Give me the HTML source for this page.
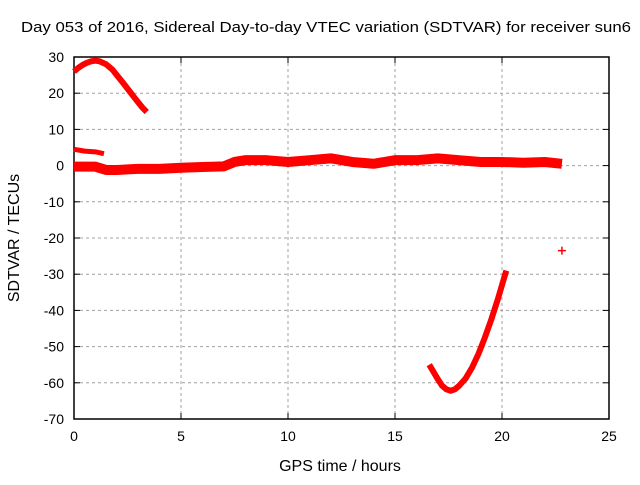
<!DOCTYPE html>
<html><head><meta charset="utf-8"><style>
body{margin:0;background:#fff}
svg text{font-family:"Liberation Sans",sans-serif;fill:#000}
</style></head><body>
<svg id="c" width="640" height="480"></svg>
<script>
const xTicks=[0,5,10,15,20,25];
const yTicks=[30,20,10,0,-10,-20,-30,-40,-50,-60,-70];
const arcX=[0,0.2,0.4,0.6,0.8,1.0,1.2,1.5,1.8,2.0,2.3,2.6,2.9,3.2,3.4];
const arcY=[26,27,27.8,28.4,28.8,29,28.8,28,26.5,25,22.8,20.5,18.2,16,14.8];
const stubX=[0,0.5,1.0,1.4];
const stubY=[4.5,4,3.8,3.3];
const bandX=[0,1,1.5,2,3,4,5,6,7,7.5,8,9,10,11,12,13,14,15,16,17,18,19,20,21,22,22.8];
const bandY=[-0.3,-0.3,-1.2,-1.2,-0.9,-0.9,-0.6,-0.4,-0.2,1,1.5,1.5,1,1.5,2,1,0.5,1.5,1.5,2,1.5,1,1,0.8,1,0.5];
const vX=[16.6,16.8,17.0,17.2,17.4,17.6,17.8,18.0,18.3,18.6,18.9,19.2,19.5,19.8,20.0,20.2];
const vY=[-55,-57,-59,-60.8,-61.8,-62.2,-61.8,-60.8,-58.8,-55.8,-52,-47.5,-42.5,-37,-33,-29];
const ptX=[22.8];
const ptY=[-23.5];
const L=74,R=609,T=57,B=419;
const sx=v=>L+(v-0)/25*(R-L);
const sy=v=>T+(30-v)/100*(B-T);
const svg=document.getElementById('c');
const NS='http://www.w3.org/2000/svg';
function mk(t,a,p){const e=document.createElementNS(NS,t);for(const k in a)e.setAttribute(k,a[k]);(p||svg).appendChild(e);return e;}
xTicks.forEach(v=>{
 if(v>0&&v<25){const g=mk('line',{x1:sx(v),x2:sx(v),y1:T,y2:B,stroke:'#a0a0a0','stroke-dasharray':'3,3'});
 
 }
 mk('line',{x1:sx(v),x2:sx(v),y1:B,y2:B-6,stroke:'#000'});
 mk('line',{x1:sx(v),x2:sx(v),y1:T,y2:T+6,stroke:'#000'});
 const t=mk('text',{x:sx(v),y:B+22,'text-anchor':'middle','font-size':'14'});t.textContent=v;
 
 
});
yTicks.forEach(v=>{
 if(v<30&&v>-70){const g=mk('line',{x1:L,x2:R,y1:sy(v),y2:sy(v),stroke:'#a0a0a0','stroke-dasharray':'3,3'});
 
 }
 mk('line',{x1:L,x2:L+6,y1:sy(v),y2:sy(v),stroke:'#000'});
 mk('line',{x1:R,x2:R-6,y1:sy(v),y2:sy(v),stroke:'#000'});
 const t=mk('text',{x:L-10,y:sy(v)+5,'text-anchor':'end','font-size':'14'});t.textContent=v;
 
 
});
const fr=mk('rect',{x:L,y:T,width:R-L,height:B-T,fill:'none',stroke:'#000','stroke-width':1.5});


function series(xs,ys,w,name){
 const p=mk('polyline',{points:xs.map((x,i)=>sx(x)+','+sy(ys[i])).join(' '),fill:'none',stroke:'#f00','stroke-width':w,'stroke-linejoin':'round'});
 
 
}
series(arcX,arcY,6,'series-arc');
series(stubX,stubY,5,'series-stub');
series(bandX,bandY,10,'series-band');
series(vX,vY,6,'series-v');
ptX.forEach((x,i)=>{
 const g=mk('path',{d:`M${sx(x)-4},${sy(ptY[i])}h8M${sx(x)},${sy(ptY[i])-4}v8`,stroke:'#f00','stroke-width':1.5});
 
 
});
const ti=mk('text',{x:326,y:32,'text-anchor':'middle','font-size':'15',textLength:'610',lengthAdjust:'spacingAndGlyphs'});ti.textContent='Day 053 of 2016, Sidereal Day-to-day VTEC variation (SDTVAR) for receiver sun6';


const xt=mk('text',{x:340,y:471,'text-anchor':'middle','font-size':'16'});xt.textContent='GPS time / hours';


const yt=mk('text',{x:0,y:0,'text-anchor':'middle','font-size':'16',transform:`translate(19,${(T+B)/2}) rotate(-90)`});yt.textContent='SDTVAR / TECUs';


</script>
</body></html>
